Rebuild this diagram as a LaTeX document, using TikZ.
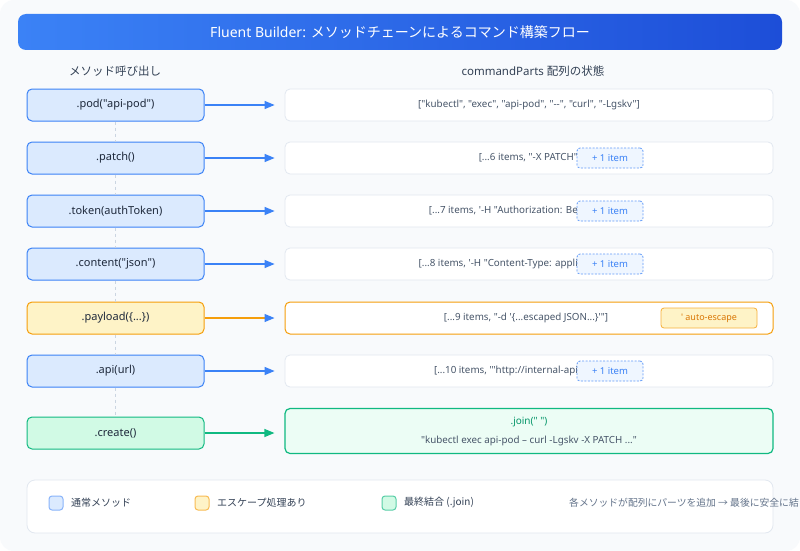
\documentclass[tikz,border=0pt]{standalone}
\usepackage{fontspec}
\setmainfont{Noto Sans}[Ligatures=TeXOff]
\newfontfamily\jp{Noto Sans CJK JP}
\usetikzlibrary{arrows.meta}
\definecolor{bgc}{HTML}{F8FAFC}
\definecolor{titleL}{HTML}{3B82F6}
\definecolor{titleR}{HTML}{1D4ED8}
\definecolor{blueF}{HTML}{DBEAFE}
\definecolor{blueB}{HTML}{3B82F6}
\definecolor{yelF}{HTML}{FEF3C7}
\definecolor{yelB}{HTML}{F59E0B}
\definecolor{yelT}{HTML}{D97706}
\definecolor{grnF}{HTML}{D1FAE5}
\definecolor{grnB}{HTML}{10B981}
\definecolor{grnL}{HTML}{ECFDF5}
\definecolor{grnT}{HTML}{059669}
\definecolor{grayB}{HTML}{E2E8F0}
\definecolor{grayL}{HTML}{CBD5E1}
\definecolor{txtD}{HTML}{1E293B}
\definecolor{txtM}{HTML}{334155}
\definecolor{txtR}{HTML}{475569}
\definecolor{txtS}{HTML}{64748B}
\definecolor{badgeF}{HTML}{EFF6FF}
\tikzset{
  method/.style={draw, rounded corners=5pt, minimum width=177pt, minimum height=32pt, line width=1pt, inner sep=0pt, text=txtD, font=\fontsize{11}{13}\selectfont},
  mblue/.style={method, fill=blueF, draw=blueB},
  myel/.style={method, fill=yelF, draw=yelB},
  mgrn/.style={method, fill=grnF, draw=grnB},
  statebox/.style={draw=grayB, fill=white, rounded corners=5pt, minimum width=488pt, minimum height=32pt, line width=0.8pt, inner sep=0pt},
  rowtext/.style={text=txtR, font=\fontsize{9.8}{11}\selectfont, inner sep=0pt},
  badge/.style={draw=blueB!80, dash pattern=on 2pt off 1.5pt, fill=badgeF, rounded corners=3pt, minimum width=66pt, minimum height=20pt, inner sep=0pt, text=blueB, font=\fontsize{9.5}{10}\selectfont, line width=0.8pt},
  arr/.style={line width=1.2pt, -{Triangle[length=10pt,width=8pt]}, shorten >=10pt},
  lsq/.style={draw, rounded corners=3pt, minimum width=14pt, minimum height=14pt, inner sep=0pt, line width=1pt},
  legtext/.style={text=txtM, font=\fontsize{10}{12}\selectfont\jp, inner sep=0pt, anchor=west},
  header/.style={text=txtM, font=\fontsize{11.5}{13}\selectfont},
}
\begin{document}
\begin{tikzpicture}[x=1pt,y=-1pt]
\useasboundingbox (0,0) rectangle (800,551);
\fill[white] (0,0) rectangle (800,551);
\fill[bgc, rounded corners=14pt] (0,0) rectangle (800,551);
% title
\shade[rounded corners=8pt, left color=titleL, right color=titleR] (18,14) rectangle (782,50);
\node[text=white, font=\fontsize{14}{16}\selectfont] (title) at (400,32) {Fluent Builder: {\jp メソッドチェーンによるコマンド構築フロー}};
% headers
\node[header, font=\fontsize{11.5}{13}\selectfont\jp] (h1) at (115,71) {メソッド呼び出し};
\node[header] (h2) at (533,71) {commandParts {\jp 配列の状態}};
% method boxes
\node[mblue] (m1) at (115.5,105) {.pod("api-pod")};
\node[mblue] (m2) at (115.5,158) {.patch()};
\node[mblue] (m3) at (115.5,211) {.token(authToken)};
\node[mblue] (m4) at (115.5,264) {.content("json")};
\node[myel]  (m5) at (115.5,318) {.payload(\{...\})};
\node[mblue] (m6) at (115.5,371) {.api(url)};
\node[mgrn]  (m7) at (115.5,433) {.create()};
% dashed spine
\foreach \a/\b in {m1/m2,m2/m3,m3/m4,m4/m5,m5/m6,m6/m7}
  \draw[grayL, line width=0.8pt, dash pattern=on 3pt off 3pt] (\a.south) -- (\b.north);
% state boxes
\node[statebox] (s1) at (529,105) {};
\node[statebox] (s2) at (529,158) {};
\node[statebox] (s3) at (529,211) {};
\node[statebox] (s4) at (529,264) {};
\node[statebox, draw=yelB, line width=1pt] (s5) at (529,318) {};
\node[statebox] (s6) at (529,371) {};
\node[statebox, minimum height=45pt, fill=grnL, draw=grnB, line width=1.2pt] (s7) at (529,431) {};
% arrows
\draw[arr, blueB] (m1) -- (s1);
\draw[arr, blueB] (m2) -- (s2);
\draw[arr, blueB] (m3) -- (s3);
\draw[arr, blueB] (m4) -- (s4);
\draw[line width=1.2pt, yelB, -{Triangle[length=10pt,width=8pt,color=blueB]}, shorten >=10pt] (m5) -- (s5);
\draw[arr, blueB] (m6) -- (s6);
\draw[arr, grnB] (m7.east) -- (m7.east -| s7.west);
% row texts
\node[rowtext] (t1) at (529,105) {["kubectl", "exec", "api-pod", "--", "curl", "-Lgskv"]};
\node[rowtext, anchor=east] (t2) at (578,158) {[...6 items, "-X PATCH"};
\node[rowtext, anchor=east] (t3) at (578,211) {[...7 items, '-H "Authorization: Be};
\node[rowtext, anchor=east] (t4) at (578,264) {[...8 items, '-H "Content-Type: appli};
\node[rowtext] (t5) at (526,318) {[...9 items, "-d '\{...escaped JSON...\}'"]};
\node[rowtext, anchor=east] (t6) at (578,371) {[...10 items, '"http://internal-api};
\node[text=grnT, font=\fontsize{10}{12}\selectfont, inner sep=0pt] (j1) at (529,422) {.join(" ")};
\node[rowtext] (j2) at (529,441) {"kubectl exec api-pod – curl -Lgskv -X PATCH ..."};
% badges
\node[badge] (b2) at (610,158) {+ 1 item};
\node[badge] (b3) at (610,211) {+ 1 item};
\node[badge] (b4) at (610,264) {+ 1 item};
\node[badge] (b6) at (610,371) {+ 1 item};
\node[draw=yelB!80, fill=yelF, rounded corners=3pt, minimum width=96pt, minimum height=20pt, inner sep=0pt, text=yelT, font=\fontsize{9}{10}\selectfont, line width=0.8pt] (b5) at (709,318) {' auto-escape};
% legend
\node[draw=grayB, fill=white, rounded corners=8pt, minimum width=746pt, minimum height=53pt, line width=0.8pt] (leg) at (400,506.5) {};
\node[lsq, fill=blueF, draw=blueB!60] (q1) at (56,503) {};
\node[legtext] (l1) at (71,503) {通常メソッド};
\node[lsq, fill=yelF, draw=yelB!70] (q2) at (202,503) {};
\node[legtext] (l2) at (217,503) {エスケープ処理あり};
\node[lsq, fill=grnF, draw=grnB!70] (q3) at (389,503) {};
\node[legtext] (l3) at (404,503) {最終結合 (.join)};
\node[legtext, text=txtS, font=\fontsize{9.8}{11}\selectfont\jp] (l4) at (569,503) {各メソッドが配列にパーツを追加 → 最後に安全に結};
\end{tikzpicture}
\end{document}
